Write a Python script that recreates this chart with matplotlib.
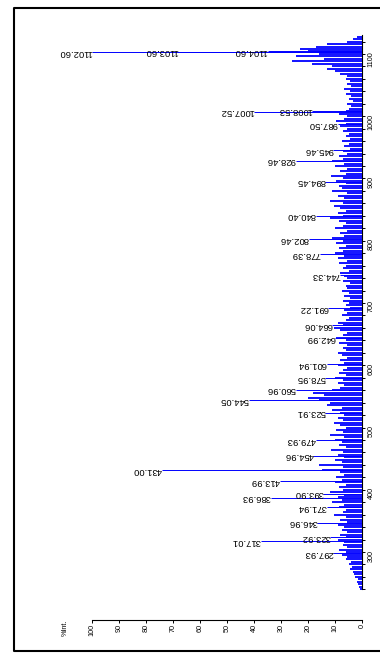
import numpy as np
import matplotlib.pyplot as plt
from matplotlib.lines import Line2D

plt.rcParams['font.family'] = ['Liberation Sans', 'DejaVu Sans']

# labelled peaks (m/z, % intensity)
peak_mz = [297.93, 317.01, 323.92, 346.96, 371.94, 386.93, 393.90, 413.99,
           431.00, 454.96, 479.93, 523.91, 544.05, 560.96, 578.95, 601.94,
           642.99, 664.06, 691.22, 744.33, 778.39, 802.46, 840.40, 894.45,
           928.46, 945.46, 987.50, 1007.52, 1008.53, 1102.60, 1103.60, 1104.60]
peak_int = [10.6, 37.5, 11.8, 16.6, 13.0, 33.8, 14.3, 30.5,
            74.0, 18.0, 17.0, 13.6, 42.0, 24.6, 13.6, 13.0,
            10.0, 11.0, 12.5, 8.0, 15.4, 19.8, 17.0, 13.6,
            24.6, 10.6, 9.0, 40.0, 18.4, 100.0, 68.0, 35.0]
peak_txt = ['%.2f' % m for m in peak_mz]

# unlabelled background sticks, one every 4 m/z from 240 to 1128
bg_mz = np.arange(240, 1129, 4)
bg_int = [
    # 240 - 336
    0.8, 1.2, 1.5, 2.0, 1.6, 2.5, 3.0, 3.5, 4.5, 3.8, 5.0, 4.2, 6.0, 5.5,
    7.5, 6.0, 8.5, 5.5, 7.0, 6.5, 9.0, 6.0, 8.0, 5.5, 7.5,
    # 340 - 436
    6.5, 9.0, 5.5, 8.0, 6.0, 10.5, 7.0, 6.0, 8.5, 6.5, 11.0, 7.5, 9.0,
    6.5, 12.0, 7.0, 8.5, 6.0, 10.0, 7.5, 9.5, 6.5, 8.0, 15.0, 7.0,
    # 440 - 536
    16.0, 7.5, 10.0, 6.5, 9.0, 7.0, 11.5, 6.0, 8.5, 7.5, 10.0, 6.5, 12.0,
    7.0, 9.5, 6.0, 8.0, 10.5, 7.0, 9.0, 6.5, 8.0, 11.0, 7.5, 13.0,
    # 540 - 636
    12.0, 16.0, 20.0, 14.0, 18.0, 11.0, 8.0, 6.5, 9.0, 7.0, 10.0, 6.0, 8.5,
    7.0, 5.5, 9.0, 6.5, 8.0, 5.5, 7.5, 9.0, 6.0, 7.0, 5.5, 8.5,
    # 640 - 736
    6.0, 9.5, 7.0, 5.5, 8.0, 10.5, 7.0, 9.0, 6.0, 5.0, 7.5, 5.5, 6.5,
    4.5, 6.0, 5.0, 7.0, 4.5, 6.5, 5.0, 7.5, 5.5, 6.0, 4.5, 7.0,
    # 740 - 836
    5.5, 6.5, 8.0, 5.0, 7.0, 6.0, 8.5, 5.5, 9.0, 6.5, 10.0, 7.0, 8.5,
    6.0, 9.5, 7.0, 11.0, 6.5, 8.0, 5.5, 10.0, 7.0, 6.0, 8.5, 12.0,
    # 840 - 936
    7.0, 9.0, 6.0, 8.0, 10.5, 7.0, 12.0, 6.5, 9.0, 5.5, 11.0, 7.5, 8.5,
    6.0, 9.5, 7.0, 11.5, 6.0, 8.0, 5.5, 10.0, 6.5, 11.0, 7.0, 8.5,
    # 940 - 1036
    5.5, 7.0, 4.5, 6.5, 5.0, 7.5, 4.5, 6.0, 5.0, 7.0, 5.5, 8.0, 6.0,
    9.5, 6.5, 5.5, 8.5, 6.0, 5.0, 4.0, 5.5, 3.5, 5.0, 4.0, 6.0,
    # 1040 - 1128
    4.5, 6.5, 4.0, 5.5, 4.5, 6.0, 5.5, 8.0, 10.0, 13.0, 11.0, 18.5,
    26.0, 14.0, 24.5, 16.0, 20.0, 23.0, 17.0, 13.0, 5.5, 3.5, 2.0,
]

mz_ticks = list(range(300, 1101, 100))
mz_minor = list(range(240, 1121, 20))
int_ticks = list(range(0, 101, 10))

W, H = 380, 654
blue = '#0000ff'


def fx(px):
    return px / W


def fy(py):
    return 1 - py / H


fig = plt.figure(figsize=(3.8, 6.54), dpi=100)
fig.patch.set_facecolor('white')

ax = fig.add_axes([fx(92), fy(620), fx(362) - fx(92), fy(33) - fy(620)])
ax.set_xlim(100, 0)
ax.set_ylim(190.8, 1133.7)

ax.hlines(bg_mz, 0, bg_int, colors=blue, lw=1.3, clip_on=False)
ax.hlines(peak_mz, 0, peak_int, colors=blue, lw=0.7, clip_on=False)
for m, i, t in zip(peak_mz, peak_int, peak_txt):
    ax.text(i, m, t, rotation=180, ha='right', va='center', fontsize=6.8,
            color='black')

for s in ['left', 'top']:
    ax.spines[s].set_visible(False)
ax.spines['right'].set_bounds(240, 1131)
ax.spines['bottom'].set_bounds(0, 100)
ax.spines['right'].set_linewidth(0.8)
ax.spines['bottom'].set_linewidth(0.8)

ax.yaxis.tick_right()
ax.set_yticks(mz_ticks)
ax.set_yticks(mz_minor, minor=True)
ax.set_yticklabels([str(t) for t in mz_ticks], rotation=90, fontsize=5.2)
ax.tick_params(axis='y', which='both', direction='out', length=2.5,
               width=0.7, pad=1.5)

ax.set_xticks(int_ticks)
ax.set_xticklabels([str(t) for t in int_ticks], rotation=90, fontsize=5.2)
ax.tick_params(axis='x', direction='out', length=2.5, width=0.7, pad=0.5)

fig.text(fx(65), fy(628), '%Int.', rotation=90, ha='center', va='center',
         fontsize=5.2)

# open frame: left, top and bottom edges only (right edge is cut off)
frame = Line2D([fx(400), fx(14), fx(14), fx(400)],
               [fy(8), fy(8), fy(651), fy(651)],
               transform=fig.transFigure, color='black', lw=1.5)
fig.lines.append(frame)

fig.savefig('out.png', dpi=100)
